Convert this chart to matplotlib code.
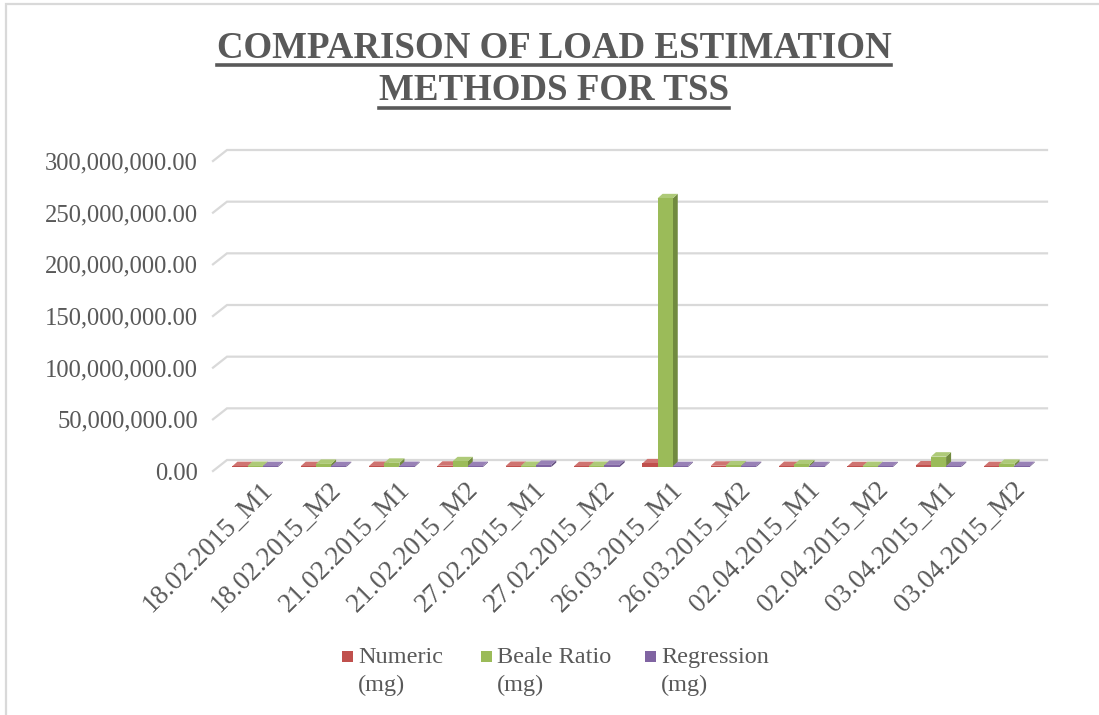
import matplotlib.pyplot as plt
from matplotlib.patches import Polygon, Rectangle
from matplotlib.lines import Line2D

# sampling events and loads from each estimation method (mg)
dates = ['18.02.2015_M1', '18.02.2015_M2', '21.02.2015_M1', '21.02.2015_M2',
         '27.02.2015_M1', '27.02.2015_M2', '26.03.2015_M1', '26.03.2015_M2',
         '02.04.2015_M1', '02.04.2015_M2', '03.04.2015_M1', '03.04.2015_M2']
numeric = [0.8e6, 0.8e6, 1.0e6, 1.2e6, 1.0e6, 0.8e6, 3.5e6, 1.2e6, 0.9e6, 0.7e6, 1.5e6, 0.8e6]
beale = [1.0e6, 3.0e6, 4.0e6, 5.5e6, 1.0e6, 1.0e6, 260.0e6, 1.5e6, 2.5e6, 0.9e6, 10.0e6, 3.0e6]
regression = [0.8e6, 0.8e6, 0.9e6, 0.9e6, 2.0e6, 2.0e6, 0.8e6, 0.9e6, 0.8e6, 0.7e6, 0.9e6, 0.9e6]
series_names = ['Numeric\n(mg)', 'Beale Ratio\n(mg)', 'Regression\n(mg)']
y_ticks = [0, 50e6, 100e6, 150e6, 200e6, 250e6, 300e6]

# front, top and side colours for each series
face_cols = ['#C0504D', '#9BBB59', '#8064A2']
top_cols = ['#CF7471', '#AECA78', '#9881B6']
side_cols = ['#963C3A', '#718A3F', '#5E4A7A']

W, H = 1099, 715
txt_col = '#595959'
grid_col = '#D9D9D9'
serif = ['Liberation Serif', 'DejaVu Serif']

fig = plt.figure(figsize=(W / 100, H / 100), dpi=100)

# border of the chart area (runs off the right and bottom edges)
fig.add_artist(Rectangle((6 / W, -0.05), 1.1, 1.05 - 4 / H, transform=fig.transFigure,
                         fill=False, edgecolor=grid_col, lw=1.6))

# axes = the front plane of the bars
left, right = 221, 1041
bottom, top = 467, 157
ax = fig.add_axes([left / W, 1 - bottom / H, (right - left) / W, (bottom - top) / H])
ax.set_xlim(0, len(dates))
ax.set_ylim(0, 300e6)
ax.axis('off')

# pixel -> data conversion for the fake 3d offsets
p0 = ax.transData.transform((0, 0))
p1 = ax.transData.transform((1, 1e6))
sx = 1.0 / (p1[0] - p0[0])          # category units per pixel
sy = 1e6 / (p1[1] - p0[1])          # mg per pixel

# back wall gridlines with the little diagonal going down to the floor
wx, wy = 6 * sx, 7 * sy
fx, fy = -8 * sx, -4 * sy
for v in y_ticks:
    ax.plot([fx, wx, len(dates) + wx], [v + fy, v + wy, v + wy], color=grid_col,
            lw=1.6, clip_on=False, zorder=1, solid_joinstyle='miter')
    ax.text(-23 * sx, v - 4 * sy, f'{v:,.2f}', ha='right', va='center_baseline',
            fontsize=17.7, family=serif, color=txt_col)

# clustered 3d-looking columns
bw = 1 / 4.5
gap = 0.75 * bw
dx, dy = 5 * sx, 4.5 * sy
for i in range(len(dates)):
    for j, vals in enumerate([numeric, beale, regression]):
        x0 = i + gap + j * bw
        x1 = x0 + bw
        v = vals[i]
        z = 2 + i * 3 + j
        ax.add_patch(Polygon([(x1, 0), (x1 + dx, dy), (x1 + dx, v + dy), (x1, v)],
                             closed=True, facecolor=side_cols[j], lw=0, zorder=z, clip_on=False))
        ax.add_patch(Polygon([(x0, v), (x1, v), (x1 + dx, v + dy), (x0 + dx, v + dy)],
                             closed=True, facecolor=top_cols[j], lw=0, zorder=z, clip_on=False))
        ax.bar(x0, v, width=bw, align='edge', color=face_cols[j], lw=0, zorder=z, clip_on=False)

# category labels under the floor
for i, d in enumerate(dates):
    ax.text(i + 0.5 + 12 * sx, -17 * sy, d, rotation=45, rotation_mode='anchor', ha='right',
            va='center_baseline', fontsize=19.5, family=serif, color=txt_col)

# title with underline
title_lines = ['COMPARISON OF LOAD ESTIMATION', 'METHODS FOR TSS']
title_y = [48, 91]
renderer = fig.canvas.get_renderer()
for s, ty in zip(title_lines, title_y):
    t = fig.text(554 / W, 1 - ty / H, s, ha='center', va='center', fontsize=26.6,
                 fontweight='bold', family=serif, color=txt_col)
    bb = t.get_window_extent(renderer)
    uy = bb.y0 + 1
    fig.add_artist(Line2D([bb.x0 / W, bb.x1 / W], [uy / H, uy / H], color=txt_col,
                          lw=2.6, transform=fig.transFigure))

# legend along the bottom
leg_x = [342, 481, 645]
for name, col, lx in zip(series_names, face_cols, leg_x):
    fig.add_artist(Rectangle((lx / W, 1 - 662 / H), 11 / W, 11 / H, transform=fig.transFigure,
                             facecolor=col, lw=0))
    fig.text((lx + 16) / W, 1 - 647 / H, name, ha='left', va='top', fontsize=17.5,
             family=serif, color=txt_col, linespacing=1.4)

fig.savefig('out.png', dpi=100)
